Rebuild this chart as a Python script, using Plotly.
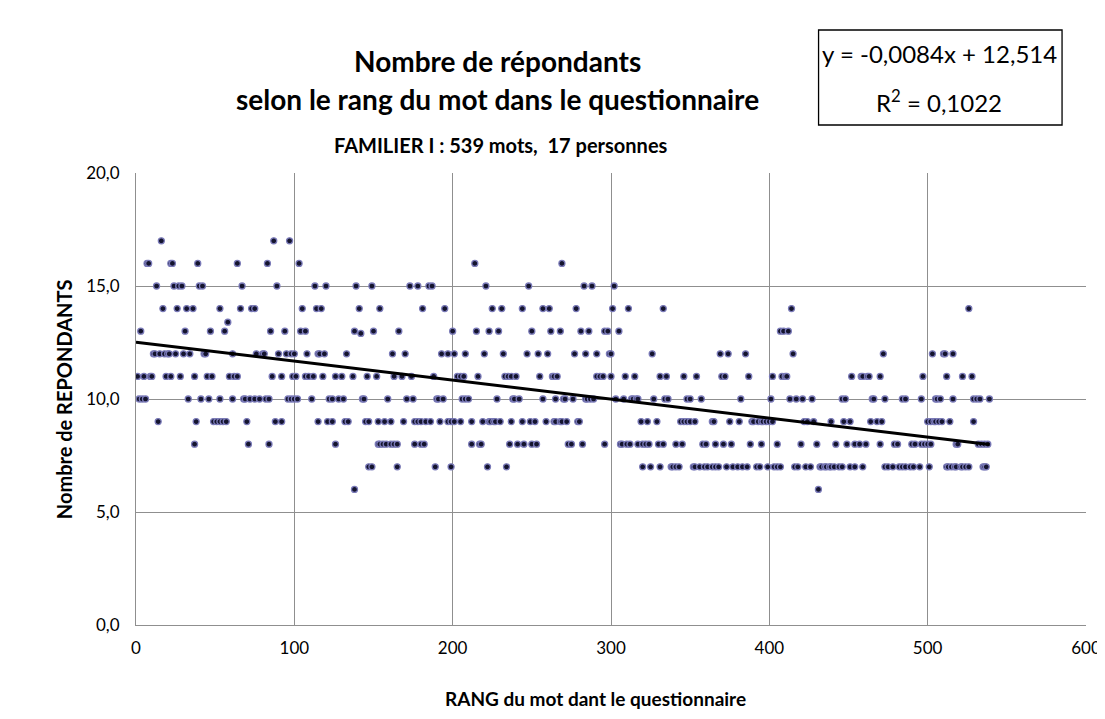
import plotly.graph_objects as go

# Rangs (position du mot), regroupés par nombre de répondants
rang_v17 = [16, 87, 97]
rang_v16 = [7, 8, 22, 23, 39, 64, 83, 103, 214, 269]
rang_v15 = [13, 24, 27, 29, 40, 42, 67, 89, 113, 120, 139, 149, 173, 178, 185, 187,
            221, 248, 283, 288, 302]
rang_v14 = [17, 26, 32, 36, 53, 66, 73, 75, 105, 114, 117, 141, 154, 181, 195,
            225, 231, 244, 257, 261, 278, 301, 311, 333, 414, 526]
rang_v13_4 = [58]
rang_v13 = [3, 31, 47, 56, 85, 94, 104, 107, 138, 150, 166, 200, 215, 223, 229, 250,
            262, 268, 281, 286, 296, 298, 305, 407, 409, 412]
rang_v12_9 = [142]
rang_v12 = [11, 12, 15, 18, 20, 21, 25, 30, 34, 43, 44, 61, 76, 80, 81, 90, 95, 98,
            100, 108, 115, 116, 119, 133, 162, 170, 193, 197, 201, 208, 220, 232, 247,
            254, 260, 277, 284, 291, 299, 300, 326, 369, 374, 385, 415, 472, 503,
            510, 511, 516]
rang_v11 = [1, 5, 9, 10, 19, 22, 28, 37, 45, 48, 59, 62, 64, 86, 92, 99, 101, 107, 109,
            112, 118, 126, 130, 137, 146, 152, 163, 168, 174, 188, 203, 205, 207, 216,
            233, 235, 237, 240, 255, 263, 264, 266, 291, 293, 295, 300, 309, 315, 331,
            335, 346, 354, 370, 372, 387, 402, 408, 410, 411, 452, 458, 459, 462, 463,
            470, 497, 512, 522, 528]
rang_v10 = [2, 4, 6, 33, 41, 46, 53, 61, 68, 69, 72, 75, 78, 82, 84, 96, 98, 100, 102,
            111, 122, 124, 128, 131, 143, 144, 159, 171, 175, 190, 191, 194, 206, 208,
            210, 228, 238, 239, 242, 257, 265, 270, 271, 276, 284, 285, 287, 289, 303,
            308, 313, 314, 316, 317, 327, 334, 336, 348, 350, 357, 382, 401, 413, 417,
            421, 427, 446, 448, 465, 466, 473, 484, 486, 496, 505, 506, 508, 516, 529,
            531, 533, 539]
rang_v9 = [14, 38, 49, 51, 53, 55, 57, 70, 88, 92, 115, 121, 124, 132, 134, 145, 147,
           153, 157, 161, 169, 176, 178, 180, 183, 186, 192, 197, 199, 201, 205, 212,
           219, 223, 224, 226, 227, 230, 237, 244, 249, 252, 259, 264, 265, 268, 269,
           272, 279, 280, 319, 323, 329, 344, 346, 348, 350, 353, 364, 365, 375, 381,
           389, 390, 393, 395, 396, 398, 400, 402, 422, 424, 428, 439, 447, 451, 464,
           468, 471, 500, 502, 504, 505, 507, 509, 514, 529]
rang_v8 = [37, 71, 84, 126, 153, 154, 156, 158, 161, 163, 165, 176, 180, 182, 212, 217,
           218, 236, 241, 245, 250, 253, 273, 275, 282, 296, 306, 307, 310, 312, 317,
           320, 322, 324, 330, 333, 341, 345, 358, 360, 366, 371, 376, 388, 395, 405,
           420, 430, 442, 449, 454, 457, 461, 470, 479, 481, 490, 492, 496, 498, 500,
           502, 518, 519, 532, 534, 536, 538]
rang_v7 = [147, 149, 165, 189, 199, 222, 234, 320, 325, 331, 338, 339, 341, 343, 352,
           353, 356, 359, 361, 364, 366, 368, 373, 377, 380, 383, 386, 392, 394, 399,
           403, 405, 407, 416, 418, 423, 426, 432, 433, 435, 436, 438, 439, 441, 444,
           446, 451, 454, 459, 473, 475, 478, 482, 484, 486, 489, 491, 495, 501, 512,
           513, 515, 517, 518, 521, 522, 524, 526, 535, 536, 537]
rang_v6 = [138, 431]

niveaux = [17, 16, 15, 14, 13.4, 13, 12.9, 12, 11, 10, 9, 8, 7, 6]
groupes = [rang_v17, rang_v16, rang_v15, rang_v14, rang_v13_4, rang_v13, rang_v12_9,
           rang_v12, rang_v11, rang_v10, rang_v9, rang_v8, rang_v7, rang_v6]

# Courbe de tendance (équation affichée)
pente = -0.0084
ordonnee = 12.514
rang_min, rang_max = 0, 539

rang = []
repondants = []
for v, rs in zip(niveaux, groupes):
    for r in rs:
        rang.append(r)
        repondants.append(v)

FONT = "Lato, Carlito, 'Liberation Sans', sans-serif"

fig = go.Figure()
fig.add_trace(go.Scatter(
    x=rang, y=repondants, mode="markers",
    marker=dict(size=6, color="#14142e", line=dict(color="#7a7ab8", width=1.3)),
    hoverinfo="x+y", showlegend=False))
fig.add_trace(go.Scatter(
    x=[rang_min, rang_max],
    y=[pente * rang_min + ordonnee, pente * rang_max + ordonnee],
    mode="lines", line=dict(color="black", width=3), showlegend=False))

# conversion px -> paper
L, R, T, B = 128, 25, 165, 102
W, H = 1105, 719
pw, ph = W - L - R, H - T - B
def px(x):
    return (x - L) / pw
def py(y):
    return (H - B - y) / ph

annots = [
    dict(text="<b>Nombre de répondants</b>", x=px(490), y=py(53), size=28),
    dict(text="<b>selon le rang du mot dans le questionnaire</b>", x=px(490), y=py(91), size=28),
    dict(text="<b>FAMILIER I : 539 mots,  17 personnes</b>", x=px(494), y=py(137), size=20),
    dict(text="y = -0,0084x + 12,514", x=px(933), y=py(45), size=24),
    dict(text="R<sup>2</sup> = 0,1022", x=px(933), y=py(93), size=24),
    dict(text="<b>RANG du mot dant le questionnaire</b>", x=px(588), y=py(690), size=19),
]
for a in annots:
    fig.add_annotation(text=a["text"], x=a["x"], y=a["y"], xref="paper", yref="paper",
                       showarrow=False, xanchor="center", yanchor="middle",
                       font=dict(family=FONT, size=a["size"], color="black"))
fig.add_annotation(text="<b>Nombre de REPONDANTS</b>", x=px(42), y=0.5, xref="paper",
                   yref="paper", showarrow=False, textangle=-90,
                   font=dict(family=FONT, size=20, color="black"))

fig.add_shape(type="rect", xref="paper", yref="paper",
              x0=px(812), x1=px(1056), y0=py(117), y1=py(22),
              line=dict(color="black", width=1.3), fillcolor="rgba(255,255,255,0)", layer="below")

fig.update_layout(
    width=W, height=H, margin=dict(l=L, r=R, t=T, b=B),
    paper_bgcolor="white", plot_bgcolor="white", separators=", ",
    font=dict(family=FONT, size=17, color="black"),
    xaxis=dict(range=[0, 600], dtick=100, showgrid=True, gridcolor="#8f8f8f", gridwidth=1,
               showline=True, linecolor="#8f8f8f", zeroline=False, ticks="",
               ticklabelstandoff=8, tickfont=dict(size=17)),
    yaxis=dict(range=[0, 20], dtick=5, tickformat=".1f", showgrid=True, gridcolor="#8f8f8f",
               showline=True, linecolor="#8f8f8f", zeroline=False, ticks="",
               ticklabelstandoff=12, tickfont=dict(size=17)),
)
fig.write_html("out.html")
